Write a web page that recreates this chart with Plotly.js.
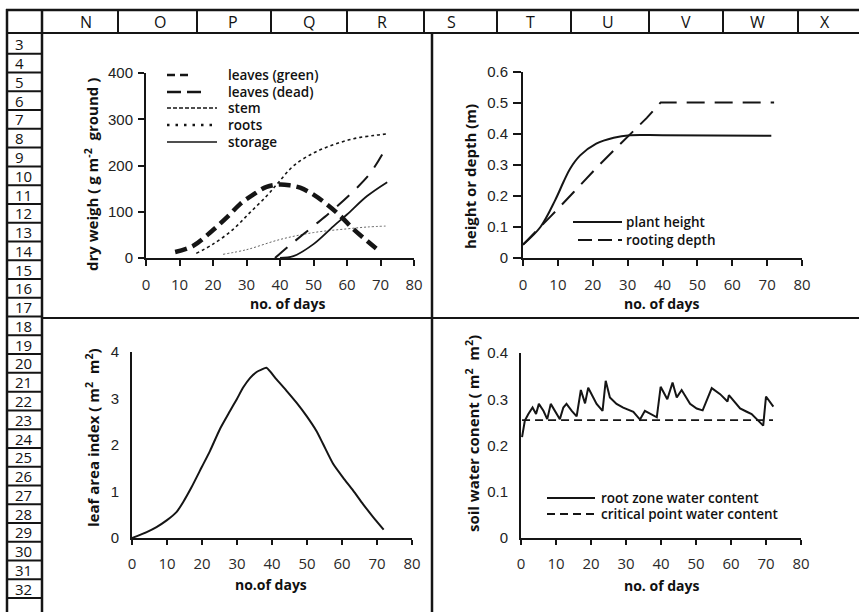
<!DOCTYPE html>
<html>
<head>
<meta charset="utf-8">
<script src="https://cdn.plot.ly/plotly-3.0.1.min.js"></script>
<style>html,body{margin:0;padding:0;background:#fff;}#chart{width:859px;height:612px;}</style>
</head>
<body>
<div id="chart"></div>
<script>
// ---------- DATA ----------
const columnLetters = ['N','O','P','Q','R','S','T','U','V','W','X'];
const rowNumbers = [3,4,5,6,7,8,9,10,11,12,13,14,15,16,17,18,19,20,21,22,23,24,25,26,27,28,29,30,31,32];

// Chart 1: dry weight (g m-2 ground)
const greenDays = [8.7,14,19.6,24.6,28,32,36,40,43,46,50,54,58,62,66,70];
const greenVals = [13,26,58,91,116,137,154,159,157,152,137,116,91,62,37,13];
const deadDays = [38.5,43.5,50,56,63,67,70.5];
const deadVals = [0,31,69,105,152,184,224];
const stemDays = [23,30,40,50,60,66,71.5];
const stemVals = [8,18,40,55,63,67,69];
const rootDays = [15,20,26,31,36,39.5,44,50,56,62,68,71.6];
const rootVals = [10,30,62,98,134,163,199,227,245,258,265,268];
const storageDays = [40,44,50,56,60,66,72];
const storageVals = [0,4,30,69,94,134,164];

// Chart 2: height or depth (m)
const heightDays = [0,5,9.2,11.6,13.5,16.4,21,26,30.7,40,71.2];
const heightVals = [0.043,0.1,0.186,0.245,0.288,0.331,0.369,0.388,0.396,0.396,0.394];
const rootDepthDays = [0,5,8,14.5,21,27,30.7,35.5,39.5,72];
const rootDepthVals = [0.043,0.1,0.135,0.212,0.29,0.358,0.4,0.452,0.502,0.502];

// Chart 3: leaf area index
const laiDays = [0,4.2,7,9.9,12.7,14.6,17,19.9,22.3,25.1,28,29.9,31.8,33.7,35.6,37,38.4,41.3,44.1,47,49.9,52.7,54.6,57.5,60.3,63.2,66,68.9,71.9];
const laiVals = [0,0.128,0.235,0.378,0.556,0.77,1.09,1.52,1.875,2.34,2.73,2.98,3.24,3.44,3.57,3.62,3.66,3.41,3.17,2.91,2.62,2.30,2.02,1.59,1.30,1.02,0.73,0.45,0.18];

// Chart 4: soil water content
const swDays = [0.3,1.1,2.1,3.3,4.3,5.1,6.4,7.5,8.5,11.1,12.1,13,14.5,15.9,17.1,18.3,19.2,21.6,23.3,24.2,25.4,27.3,29.2,32.1,34,35.4,38.8,39.9,41.8,43.3,44.5,45.9,48.3,50.2,51.9,54.5,56.9,59,59.4,62.6,64.5,65.9,69.2,70,72.1];
const swVals = [0.218,0.254,0.268,0.282,0.268,0.290,0.275,0.257,0.290,0.257,0.282,0.290,0.275,0.263,0.320,0.291,0.325,0.290,0.275,0.340,0.304,0.290,0.282,0.273,0.256,0.275,0.261,0.327,0.300,0.336,0.304,0.320,0.290,0.280,0.276,0.324,0.311,0.295,0.309,0.280,0.273,0.268,0.243,0.306,0.284];
const critDays = [0.3,72];
const critVals = [0.255,0.255];

// ---------- LAYOUT HELPERS ----------
const W = 859, H = 612;
const px = x => x / W;
const py = y => 1 - y / H;
const INK = '#151515';
const TICKX = {family:'Liberation Sans Narrow, Open Sans, sans-serif', size:15, color:'#2a2a2a'};
const TICKY = {family:'Liberation Sans, Arial, sans-serif', size:15, color:'#222'};
const TITLEF = {family:'Open Sans, sans-serif', size:14, color:'#111', weight:700};
const LEGF = {family:'Open Sans, sans-serif', size:13.5, color:'#111', weight:600};

function xax(d0, d1, anchor){
  return {domain:[px(d0), px(d1)], range:[0,80], tick0:0, dtick:10, anchor:anchor,
    showline:true, linewidth:2, linecolor:INK, ticks:'outside', ticklen:6, tickwidth:2, tickcolor:INK,
    showgrid:false, zeroline:false, tickfont:TICKX, ticklabelstandoff:6, fixedrange:true};
}
function yax(top, bottom, range, dtick, anchor, ticks, tlen){
  return {domain:[py(bottom), py(top)], range:range, tick0:0, dtick:dtick, anchor:anchor,
    showline:true, linewidth:2, linecolor:INK, ticks:ticks, ticklen:tlen, tickwidth:2, tickcolor:INK,
    showgrid:false, zeroline:false, tickfont:TICKY, ticklabelstandoff: ticks ? 2 : 8, fixedrange:true};
}

const traces = [
  {x:rootDays, y:rootVals, xaxis:'x', yaxis:'y', mode:'lines', line:{color:INK, width:1.6, dash:'dot', shape:'spline'}},
  {x:stemDays, y:stemVals, xaxis:'x', yaxis:'y', mode:'lines', line:{color:'#666', width:1, dash:'2px,2px', shape:'spline'}},
  {x:greenDays, y:greenVals, xaxis:'x', yaxis:'y', mode:'lines', line:{color:INK, width:4.5, dash:'12px,6px', shape:'spline'}},
  {x:deadDays, y:deadVals, xaxis:'x', yaxis:'y', mode:'lines', line:{color:INK, width:2, dash:'16px,11px', shape:'spline'}},
  {x:storageDays, y:storageVals, xaxis:'x', yaxis:'y', mode:'lines', line:{color:INK, width:1.8, shape:'spline'}},

  {x:heightDays, y:heightVals, xaxis:'x2', yaxis:'y2', mode:'lines', line:{color:INK, width:2, shape:'spline'}},
  {x:rootDepthDays, y:rootDepthVals, xaxis:'x2', yaxis:'y2', mode:'lines', line:{color:INK, width:2, dash:'18px,10px'}},

  {x:laiDays, y:laiVals, xaxis:'x3', yaxis:'y3', mode:'lines', line:{color:INK, width:2, shape:'spline', smoothing:0.6}},

  {x:critDays, y:critVals, xaxis:'x4', yaxis:'y4', mode:'lines', line:{color:INK, width:1.8, dash:'8px,5px'}},
  {x:swDays, y:swVals, xaxis:'x4', yaxis:'y4', mode:'lines', line:{color:INK, width:2}}
];

// ---------- SPREADSHEET FRAME ----------
const shapes = [];
function hline(y, x0, x1, w){ shapes.push({type:'line', xref:'paper', yref:'paper', x0:px(x0), x1:px(x1), y0:py(y), y1:py(y), line:{color:INK, width:w}}); }
function vline(x, y0, y1, w){ shapes.push({type:'line', xref:'paper', yref:'paper', x0:px(x), x1:px(x), y0:py(y0), y1:py(y1), line:{color:INK, width:w}}); }

hline(10, 6, 859, 2.5);
hline(33, 6, 859, 2);
vline(7, 9, 612, 2.5);
vline(42, 9, 612, 2.5);
const colDividers = [118,197,271,347,424,497,571,649,723,798];
colDividers.forEach(x => vline(x, 10, 33, 2));
vline(432, 33, 612, 2.5);
hline(318, 42, 859, 2);
const rowTop = 35, rowH = 18.77;
for (let k = 1; k <= rowNumbers.length; k++) hline(rowTop + k*rowH, 7, 42, 2);

const annotations = [];
const colCenters = [86,160,233,309,382,451,530,608,686,757,825];
columnLetters.forEach((c,i) => annotations.push({text:c, xref:'paper', yref:'paper', x:px(colCenters[i]), y:py(22), xanchor:'center', yanchor:'middle', showarrow:false, font:{family:'Open Sans, sans-serif', size:16, color:'#111'}}));
rowNumbers.forEach((r,i) => annotations.push({text:String(r), xref:'paper', yref:'paper', x:px(13), y:py(rowTop + (i+0.5)*rowH), xanchor:'left', yanchor:'middle', showarrow:false, font:{family:'Open Sans, sans-serif', size:15, color:'#111'}}));

// ---------- AXIS TITLES ----------
function ytitle(text, x, y){ annotations.push({text:text, xref:'paper', yref:'paper', x:px(x), y:py(y), xanchor:'center', yanchor:'middle', textangle:-90, showarrow:false, font:Object.assign({}, TITLEF, {size:15})}); }
function xtitle(text, x, y){ annotations.push({text:text, xref:'paper', yref:'paper', x:px(x), y:py(y), xanchor:'center', yanchor:'middle', showarrow:false, font:TITLEF}); }
ytitle('dry weigh ( g m<sup>-2</sup>  ground )', 91, 175);
ytitle('height or depth (m)', 470, 177);
ytitle('leaf area index ( m<sup>2</sup>  m<sup>2</sup>)', 92, 438);
ytitle('soil water conent ( m<sup>2</sup>  m<sup>2</sup>)', 472, 434);
xtitle('no. of days', 288, 303);
xtitle('no. of days', 662, 303);
xtitle('no.of days', 271, 584);
xtitle('no. of days', 662, 585);

// ---------- LEGENDS (drawn keys) ----------
function key(x0, x1, y, dash, w, label, tx){
  shapes.push({type:'line', xref:'paper', yref:'paper', x0:px(x0), x1:px(x1), y0:py(y), y1:py(y), line:{color:INK, width:w, dash:dash}});
  annotations.push({text:label, xref:'paper', yref:'paper', x:px(tx), y:py(y), xanchor:'left', yanchor:'middle', showarrow:false, font:LEGF});
}
key(167, 188, 75, '8px,5px', 2.5, 'leaves (green)', 226);
key(167, 201, 92, '14px,6px', 2.5, 'leaves (dead)', 226);
key(167, 217, 108, '4px,2px', 1.5, 'stem', 226);
key(167, 214, 125, '2.5px,6px', 2.5, 'roots', 226);
key(167, 217, 142, 'solid', 1.5, 'storage', 226);

key(573, 622, 222, 'solid', 1.8, 'plant height', 624);
key(578, 622, 240, '14px,6px', 2, 'rooting depth', 624);

key(547, 595, 498, 'solid', 1.8, 'root zone water content', 599);
key(547, 595, 514, '8px,5px', 1.8, 'critical point water content', 599);

const layout = {
  width: W, height: H,
  margin: {l:0, r:0, t:0, b:0},
  paper_bgcolor: '#ffffff', plot_bgcolor: 'rgba(0,0,0,0)',
  showlegend: false, hovermode: false,
  xaxis:  xax(146, 414, 'y'),
  yaxis:  yax(73, 258, [0,400], 100, 'x', 'outside', 6),
  xaxis2: xax(523, 802, 'y2'),
  yaxis2: yax(72, 258, [0,0.6], 0.1, 'x2', 'outside', 8),
  xaxis3: Object.assign(xax(132, 412, 'y3'), {ticklen:5}),
  yaxis3: yax(352, 538, [0,4], 1, 'x3', '', 0),
  xaxis4: Object.assign(xax(521, 801, 'y4'), {ticklen:5}),
  yaxis4: yax(353, 538, [0,0.4], 0.1, 'x4', '', 0),
  shapes: shapes,
  annotations: annotations
};

Plotly.newPlot('chart', traces, layout, {staticPlot:true, displayModeBar:false});
</script>
</body>
</html>
